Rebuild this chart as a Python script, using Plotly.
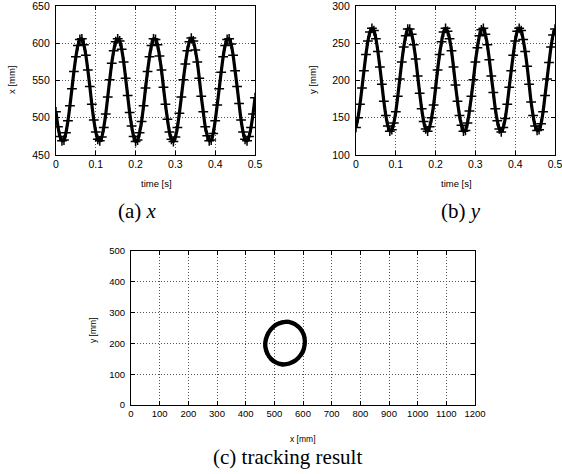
import plotly.graph_objects as go

# time samples [s]
time_s = [round(i * 0.005, 3) for i in range(101)]

# x position [mm]
x_mm = [508, 488, 475, 469, 470, 480, 496, 516, 539, 562, 582, 597, 605, 606, 598, 584, 564, 542, 518, 497,
        481, 471, 469, 474, 487, 505, 528, 551, 573, 590, 602, 606, 603, 592, 575, 553, 530,
        507, 489, 475, 468, 470, 480, 495, 516, 540, 562, 582, 597, 606, 605, 598, 583, 564, 541, 518, 498,
        481, 471, 468, 474, 487, 506, 528, 551, 572, 590, 602, 607, 603, 591, 575, 553, 529,
        508, 488, 476, 469, 470, 479, 496, 517, 539, 561, 582, 597, 605, 606, 599, 584, 563, 542, 519, 497,
        481, 471, 469, 475, 487, 505, 527]

# y position [mm]
y_mm = [137, 150, 168, 190, 213, 235, 253, 265, 270, 267, 256, 239, 218, 195, 172, 153, 139, 132, 134, 143,
        158, 179, 202, 225, 245, 260, 269, 269, 262, 248, 229, 206, 183, 162, 145, 135, 132,
        138, 150, 167, 190, 214, 235, 252, 265, 270, 266, 256, 240, 218, 194, 172, 153, 140, 132, 133, 143,
        159, 179, 201, 225, 244, 260, 268, 270, 262, 248, 228, 206, 184, 162, 146, 135, 131,
        137, 149, 168, 191, 213, 234, 253, 266, 270, 267, 255, 239, 219, 195, 171, 153, 139, 133, 134, 142,
        158, 180, 202, 224, 245, 261, 269]

W, H = 562, 474

def px(x):
    return x / W

def py(y):
    return 1 - y / H

SANS = "Liberation Sans, Arial, Helvetica, sans-serif"
SERIF = "Liberation Serif, Times New Roman, serif"

fig = go.Figure()

line_style = dict(color="black", width=3.2, shape="spline", smoothing=0.8)
marker_style = dict(symbol="cross-thin", size=7, color="black", line=dict(color="black", width=1.5))

fig.add_trace(go.Scatter(x=time_s, y=x_mm, mode="lines+markers", line=line_style,
                         marker=marker_style, xaxis="x", yaxis="y", showlegend=False))
fig.add_trace(go.Scatter(x=time_s, y=y_mm, mode="lines+markers", line=line_style,
                         marker=marker_style, xaxis="x2", yaxis="y2", showlegend=False))
fig.add_trace(go.Scatter(x=x_mm, y=y_mm, mode="lines+markers",
                         line=dict(color="black", width=4, shape="spline", smoothing=0.8),
                         marker=dict(symbol="circle", size=3, color="black"),
                         xaxis="x3", yaxis="y3", showlegend=False))

def axis(domain, rng, dtick, anchor, size, standoff):
    return dict(domain=domain, range=rng, dtick=dtick, anchor=anchor, automargin=False,
                showline=True, linecolor="black", linewidth=1.2, mirror="ticks",
                ticks="inside", ticklen=4, tickcolor="black", tickwidth=1,
                showgrid=True, gridcolor="#555555", griddash="1px,2px", gridwidth=1,
                zeroline=False, tickfont=dict(family=SANS, size=size, color="black"),
                ticklabelstandoff=standoff, ticklabeloverflow="allow", fixedrange=True)

fig.update_layout(
    width=W, height=H,
    margin=dict(l=0, r=0, t=0, b=0),
    paper_bgcolor="white", plot_bgcolor="white",
    xaxis=axis([px(56), px(255)], [0, 0.5], 0.1, "y", 10.5, -1),
    yaxis=axis([py(155), py(6)], [450, 650], 50, "x", 10.5, 3),
    xaxis2=axis([px(356), px(555)], [0, 0.5], 0.1, "y2", 10.5, -1),
    yaxis2=axis([py(155), py(6)], [100, 300], 50, "x2", 10.5, 3),
    xaxis3=axis([px(131), px(475)], [0, 1200], 100, "y3", 9.5, -1),
    yaxis3=axis([py(405), py(251)], [0, 500], 100, "x3", 9.5, 3),
)

def label(x, y, text, size, family=SANS, angle=0):
    fig.add_annotation(x=px(x), y=py(y), xref="paper", yref="paper", text=text,
                       showarrow=False, textangle=angle, xanchor="center", yanchor="middle",
                       font=dict(family=family, size=size, color="black"))

label(156, 183, "time [s]", 9.5)
label(12, 80, "x [mm]", 9.5, angle=-90)
label(456, 183, "time [s]", 9.5)
label(313, 80, "y [mm]", 9.5, angle=-90)
label(303, 439, "x [mm]", 8.5)
label(93, 330, "y [mm]", 8.5, angle=-90)

label(137, 211, "(a) <i>x</i>", 21, SERIF)
label(461, 211, "(b) <i>y</i>", 21, SERIF)
label(287, 457, "(c) tracking result", 21, SERIF)

fig.write_html("out.html", config={"displayModeBar": False},
               post_script="document.body.style.margin='0';document.body.style.overflow='hidden';")
